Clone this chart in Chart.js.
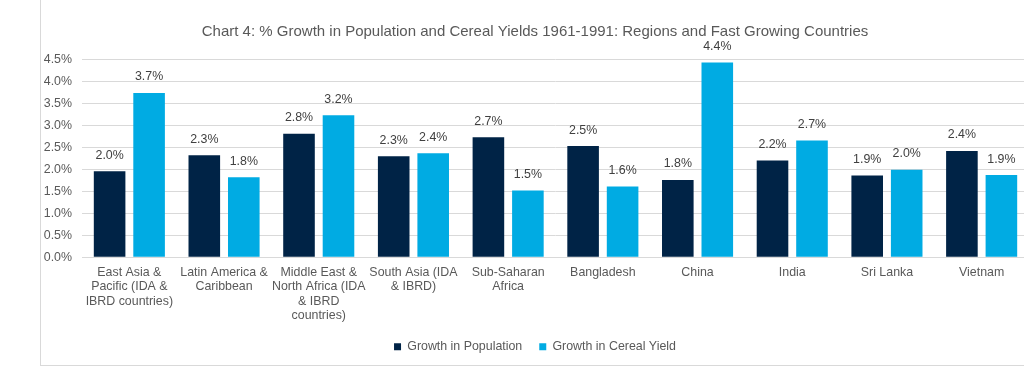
<!DOCTYPE html>
<html>
<head>
<meta charset="utf-8">
<script src="https://cdn.jsdelivr.net/npm/chart.js@4"></script>
<style>
  body { margin: 0; background: #fff; overflow: hidden; width: 1024px; height: 366px; }
  #frame { position: absolute; left: 40px; top: 0; width: 999px; height: 365px; border-left: 1px solid #d9d9d9; border-bottom: 1px solid #d9d9d9; }
  #wrap { position: relative; width: 999px; height: 365px; }
</style>
</head>
<body>
<div id="frame"><div id="wrap"><canvas id="myChart"></canvas></div></div>
<script>
// categories (multi-line labels as in the original)
const categories = [
    ['East Asia &', 'Pacific (IDA &', 'IBRD countries)'],
    ['Latin America &', 'Caribbean'],
    ['Middle East &', 'North Africa (IDA', '& IBRD', 'countries)'],
    ['South Asia (IDA', '& IBRD)'],
    ['Sub-Saharan', 'Africa'],
    'Bangladesh',
    'China',
    'India',
    'Sri Lanka',
    'Vietnam'
];
// % growth
const populationGrowth = [1.96, 2.32, 2.81, 2.30, 2.73, 2.53, 1.76, 2.20, 1.86, 2.42];
const cerealYieldGrowth = [3.74, 1.82, 3.23, 2.37, 1.52, 1.61, 4.43, 2.66, 1.99, 1.87];
const yTicks = [0, 0.5, 1, 1.5, 2, 2.5, 3, 3.5, 4, 4.5];

const darkBlue = '#002346';
const lightBlue = '#00ABE3';
const textGrey = '#595959';
const font = 'Liberation Sans, Arial, sans-serif';
const fontSize = 12.4;

// value labels above each bar
const barLabels = {
    id: 'barLabels',
    afterDatasetsDraw(chart) {
        const ctx = chart.ctx;
        ctx.save();
        ctx.font = fontSize + 'px ' + font;
        ctx.fillStyle = '#404040';
        ctx.textAlign = 'center';
        ctx.textBaseline = 'middle';
        chart.data.datasets.forEach((ds, i) => {
            chart.getDatasetMeta(i).data.forEach((bar, j) => {
                ctx.fillText(ds.data[j].toFixed(1) + '%', bar.x, bar.y - 16);
            });
        });
        ctx.restore();
    }
};

new Chart(document.getElementById('myChart'), {
    type: 'bar',
    data: {
        labels: categories,
        datasets: [{
            label: 'Growth in Population',
            data: populationGrowth,
            backgroundColor: darkBlue,
            categoryPercentage: 0.834,
            barPercentage: 0.8
        }, {
            label: 'Growth in Cereal Yield',
            data: cerealYieldGrowth,
            backgroundColor: lightBlue,
            categoryPercentage: 0.834,
            barPercentage: 0.8
        }]
    },
    options: {
        responsive: true,
        maintainAspectRatio: false,
        animation: false,
        layout: { padding: { left: 0, right: 11, top: 0, bottom: 2 } },
        scales: {
            x: {
                grid: { display: false, drawTicks: false },
                border: { color: '#d9d9d9' },
                ticks: { color: textGrey, font: { family: font, size: fontSize, lineHeight: 1.17 }, padding: 8, maxRotation: 0, autoSkip: false },
                afterFit(axis) { axis.height = 66.3; }
            },
            y: {
                min: 0,
                max: 4.5,
                afterBuildTicks(axis) { axis.ticks = yTicks.map(v => ({ value: v })); },
                grid: { color: '#d9d9d9', drawTicks: false },
                border: { display: false },
                ticks: {
                    color: textGrey,
                    font: { family: font, size: fontSize },
                    padding: 10,
                    callback: v => v.toFixed(1) + '%'
                },
                afterFit(axis) { axis.width = 41; }
            }
        },
        plugins: {
            title: {
                display: true,
                text: 'Chart 4: % Growth in Population and Cereal Yields 1961-1991: Regions and Fast Growing Countries',
                color: textGrey,
                font: { family: font, size: 15, weight: 'normal' },
                padding: { top: 23, bottom: 18.5 }
            },
            legend: {
                position: 'bottom',
                labels: {
                    color: textGrey,
                    font: { family: font, size: fontSize },
                    boxWidth: 7,
                    boxHeight: 7,
                    padding: 17
                }
            },
            tooltip: { enabled: false }
        }
    },
    plugins: [barLabels]
});
</script>
</body>
</html>
